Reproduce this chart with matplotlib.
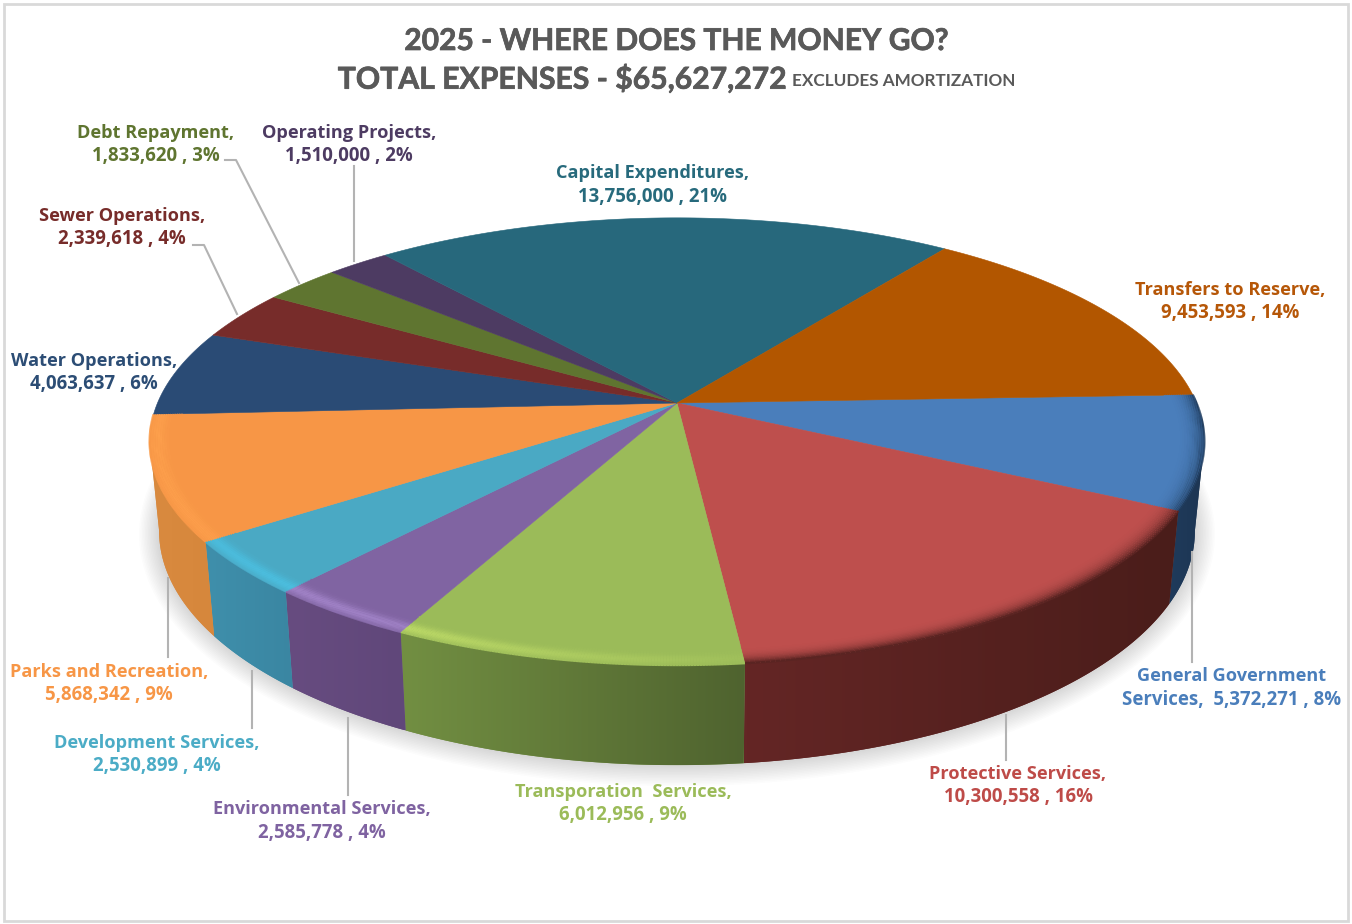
import numpy as np
import matplotlib
matplotlib.use('Agg')
import matplotlib.pyplot as plt
import matplotlib.patheffects as pe
from matplotlib.collections import LineCollection
from matplotlib.colors import LinearSegmentedColormap, to_rgb
from matplotlib.patches import Polygon, Rectangle

# clockwise from the right hand side of the pie
names = ['General Government', 'Protective Services,', 'Transporation  Services,',
         'Environmental Services,', 'Development Services,', 'Parks and Recreation,',
         'Water Operations,', 'Sewer Operations,', 'Debt Repayment,',
         'Operating Projects,', 'Capital Expenditures,', 'Transfers to Reserve,']
values = [5372271, 10300558, 6012956, 2585778, 2530899, 5868342,
          4063637, 2339618, 1833620, 1510000, 13756000, 9453593]
top_colors = ['#4a7ebb', '#be4f4d', '#9bbb59', '#8064a2', '#4aa9c4', '#f79646',
              '#2a4b75', '#772c2a', '#5f7530', '#4d3b62', '#27687c', '#b25600']
# only the front slices show a wall
wall_left = ['#1f3b5c', '#642625', '#728f42', '#674c80', '#3f8fab', '#d98a3f']
wall_right = ['#1d3552', '#4a1d1a', '#4f632f', '#60477a', '#3a86a2', '#d6873c']
rim_colors = ['#1f3b5c', '#5a2422', '#bfdc68', '#a98ad0', '#4cc4e6', '#ffa24e']
rim_fade = [1, 1, 0.15, 0.9, 1, 0.8]
text_colors = ['#4a7ebb', '#be4b48', '#9bbb59', '#7f63a1', '#4bacc6', '#f79646',
               '#2c4d75', '#772c2a', '#5f7530', '#4d3b62', '#276a7c', '#b65708']

# label centres and leader lines, in pixels
label_pos = [(1232, 676, 700), (1018, 774, 797), (623, 792, 815), (322, 809, 833),
             (157, 743, 766), (109, 672, 695), (94, 361, 384), (122, 216, 239),
             (156, 133, 156), (349, 133, 156), (653, 173, 197), (1230, 290, 313)]
leaders = [[(1192, 552), (1192, 662)],
           [(1006, 715), (1006, 760)],
           [(348, 718), (348, 795)],
           [(252, 671), (252, 728)],
           [(168, 578), (168, 657)],
           [(193, 245), (204, 245), (237, 314)],
           [(225, 160), (236, 160), (299, 283)],
           [(354, 166), (354, 261)]]

total = sum(values)
start_angle = 2.2

W, H = 1352, 924
cx, cy = 677, 403
sx, sy, k = 519.5, 217, 0.172
# angles where the wall meets the silhouette of the disc
side_right, side_left = -9.8, -170.2


def project(t, r=1.0):
    # perspective view of the disc top
    x = r * np.cos(np.radians(t))
    y = r * np.sin(np.radians(t))
    w = 1 + k * y
    return cx + sx * x / w, cy - sy * y / w


def project_low(t, grow=0.0):
    # lower edge of the disc wall
    px, py = project(t)
    gx = 0.982 + grow / 527
    gy = 1.046 + grow / 250
    return cx + gx * (px - cx), cy + 88 + gy * (py - cy)


def blend(c1, c2, a):
    c1, c2 = np.array(to_rgb(c1)), np.array(to_rgb(c2))
    return tuple(c1 * (1 - a) + c2 * a)


fig = plt.figure(figsize=(W / 100, H / 100), dpi=100)
ax = fig.add_axes([0, 0, 1, 1])
ax.axis('off')

ax.add_patch(Rectangle((4, 4), 1344, 917, fc='white', ec='#d9d9d9', lw=2, zorder=0))

# soft shadow under the disc
tt = np.linspace(0, 360, 361)
for g in np.arange(20, 0, -1.5):
    lx, ly = project_low(tt, g)
    ax.add_patch(Polygon(np.c_[lx, ly], fc='#666666', ec='none', alpha=0.02, zorder=1))

ends = start_angle - np.cumsum(values) / total * 360
starts = np.r_[start_angle, ends[:-1]]

# walls first, the top face covers whatever lies behind it
for i in range(len(wall_left)):
    t_start = min(starts[i], side_right)
    t_end = max(ends[i], side_left)
    ts = np.linspace(t_start, t_end, 120)
    tx, ty = project(ts)
    lx, ly = project_low(ts)
    poly = Polygon(np.r_[np.c_[tx, ty], np.c_[lx, ly][::-1]], fc=wall_left[i], ec='none', zorder=2)
    ax.add_patch(poly)
    cmap = LinearSegmentedColormap.from_list('wall', [wall_left[i], wall_right[i]])
    x0, x1 = min(tx.min(), lx.min()), max(tx.max(), lx.max())
    y0, y1 = min(ty.min(), ly.min()), max(ty.max(), ly.max())
    im = ax.imshow(np.linspace(0, 1, 128).reshape(1, -1), cmap=cmap, extent=(x0, x1, y1, y0),
                   aspect='auto', zorder=2.1, interpolation='bilinear')
    im.set_clip_path(poly)

# top face
for i in range(len(values)):
    ts = np.linspace(starts[i], ends[i], 120)
    tx, ty = project(ts)
    pts = np.r_[[[cx, cy]], np.c_[tx, ty]]
    ax.add_patch(Polygon(pts, fc=top_colors[i], ec=top_colors[i], lw=0.4, zorder=3))

# bevel along the front edge
for i in range(len(rim_colors)):
    ts = np.linspace(starts[i], ends[i], 120)
    ts = ts[(ts < 3) & (ts > -178.5)]
    dark = i < 2
    fade = np.linspace(rim_fade[i], 1, len(ts) - 1)
    for r in np.linspace(0.945, 1.0, 14):
        u = (r - 0.945) / 0.055
        a = u ** 3 if dark else 0.85 * np.exp(-((u - 0.72) / 0.28) ** 2)
        tx, ty = project(ts, r)
        segs = np.stack([np.c_[tx[:-1], ty[:-1]], np.c_[tx[1:], ty[1:]]], axis=1)
        cols = [blend(top_colors[i], rim_colors[i], a * f) for f in fade]
        ax.add_collection(LineCollection(segs, colors=cols, linewidths=1.6, zorder=3.5,
                                         capstyle='butt'))

for line in leaders:
    p = np.array(line)
    ax.plot(p[:, 0], p[:, 1], color='#b3b3b3', lw=1.5, zorder=4)

label_font = 'Open Sans'
for i, name in enumerate(names):
    pct = round(values[i] / total * 100)
    px, y1, y2 = label_pos[i]
    second = f'{values[i]:,} , {pct}%'
    if name.startswith('General'):
        second = 'Services,  ' + second
    ax.text(px, y1, name, color=text_colors[i], fontsize=13.1, fontweight='bold',
            family=label_font, ha='center', va='center', zorder=5)
    ax.text(px, y2, second, color=text_colors[i], fontsize=13.4, fontweight='bold',
            family=label_font, ha='center', va='center', zorder=5)

heavier = [pe.withStroke(linewidth=0.5, foreground='#595959')]
ax.text(676, 41, '2025 - WHERE DOES THE MONEY GO?', color='#595959', fontsize=21.6,
        fontweight='bold', family='Lato', ha='center', va='center', zorder=5, path_effects=heavier)
ax.text(786, 79, f'TOTAL EXPENSES - ${total:,}', color='#595959', fontsize=21.7,
        fontweight='bold', family='Lato', ha='right', va='center', zorder=5, path_effects=heavier)
ax.text(792, 81, 'EXCLUDES AMORTIZATION', color='#595959', fontsize=12.3,
        fontweight='bold', family='Lato', ha='left', va='center', zorder=5)

ax.set_xlim(0, W)
ax.set_ylim(H, 0)
fig.savefig('out.png', dpi=100, facecolor='white')
